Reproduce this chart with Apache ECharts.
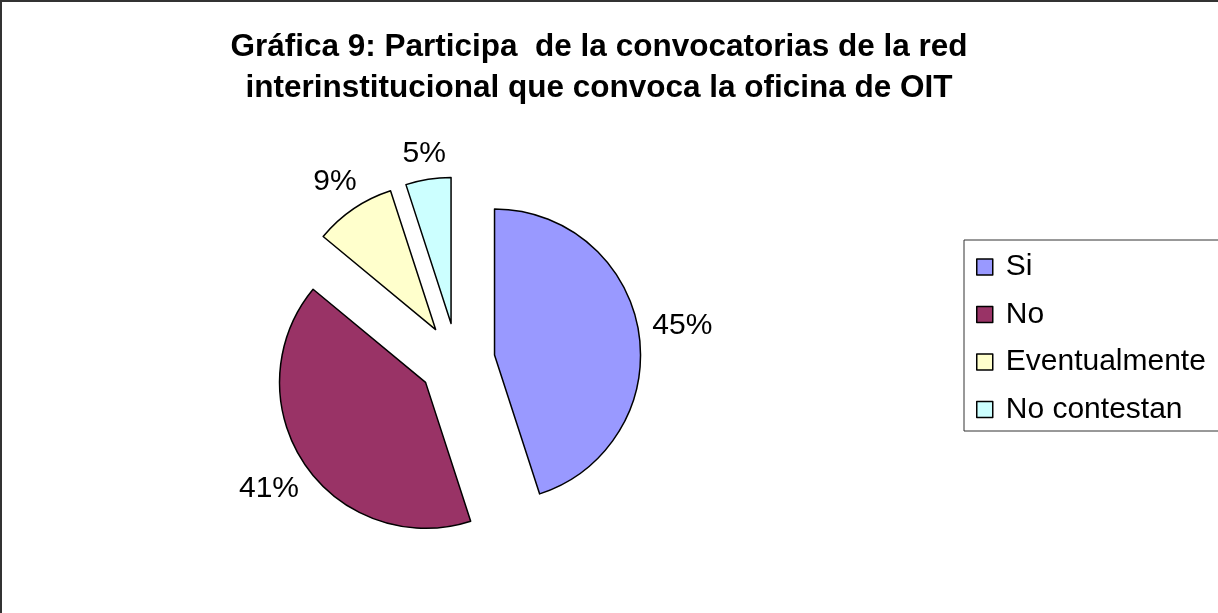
<!DOCTYPE html>
<html>
<head>
<meta charset="utf-8">
<title>Gráfica 9</title>
<script src="https://cdn.jsdelivr.net/npm/echarts@6/dist/echarts.min.js"></script>
<style>
  html, body { margin: 0; padding: 0; background: #fff; }
  #chart { width: 1218px; height: 613px; }
</style>
</head>
<body>
<div id="chart"></div>
<script>
// data
const categories = ['Si', 'No', 'Eventualmente', 'No contestan']
const percents = [45, 41, 9, 5]
const colors = ['#9999FF', '#993366', '#FFFFCC', '#CCFFFF']
const titleText = 'Gráfica 9: Participa  de la convocatorias de la red\ninterinstitucional que convoca la oficina de OIT'

const font = "'Liberation Sans', Arial, sans-serif"
const pieCenter = [457, 361]
const pieRadius = 146
const explode = 38
const labelGap = 13

// mid angle of each slice, clockwise from 12 o'clock (same as the pie)
const total = percents.reduce((a, b) => a + b, 0)
const midAngles = percents.map((v, i) => {
  const before = percents.slice(0, i).reduce((a, b) => a + b, 0)
  return (before + v / 2) / total * 2 * Math.PI
})

// put each label just outside its exploded slice, like Excel does
function placeLabel (params) {
  const a = midAngles[params.dataIndex]
  const dx = Math.sin(a)
  const dy = -Math.cos(a)
  const w = params.labelRect.width
  const h = params.labelRect.height * 0.65
  const half = Math.abs(dx) * w / 2 + Math.abs(dy) * h / 2
  const d = explode + pieRadius + labelGap + half
  return {
    x: pieCenter[0] + dx * d,
    y: pieCenter[1] + dy * d,
    align: 'center',
    verticalAlign: 'middle'
  }
}

const pieData = categories.map((name, i) => ({ name: name, value: percents[i] }))

const chart = echarts.init(document.getElementById('chart'))

chart.setOption({
  animation: false,
  color: colors,
  title: {
    text: titleText,
    left: 599,
    top: 27,
    padding: 0,
    textAlign: 'center',
    textStyle: {
      fontFamily: font,
      fontSize: 31.5,
      fontWeight: 'bold',
      color: '#000',
      lineHeight: 41
    }
  },
  legend: {
    orient: 'vertical',
    left: 964,
    top: 240,
    padding: [12, 40, 6.5, 12],
    borderColor: '#333',
    borderWidth: 1,
    itemWidth: 16,
    itemHeight: 16,
    itemGap: 17.5,
    icon: 'rect',
    selectedMode: false,
    itemStyle: {
      borderColor: '#000',
      borderWidth: 1.5
    },
    textStyle: {
      fontFamily: font,
      fontSize: 30,
      lineHeight: 30,
      color: '#000',
      padding: [0, 0, 0, 8]
    },
    data: categories
  },
  graphic: [{
    type: 'rect',
    silent: true,
    z: -1,
    shape: { x: 1, y: 1, width: 1300, height: 700 },
    style: { fill: 'none', stroke: '#333', lineWidth: 2 }
  }],
  series: [{
    // the exploded slices
    type: 'pie',
    center: pieCenter,
    radius: pieRadius,
    startAngle: 90,
    clockwise: true,
    selectedMode: 'multiple',
    selectedOffset: explode,
    itemStyle: {
      borderColor: '#000',
      borderWidth: 1.5
    },
    select: {
      itemStyle: {
        borderColor: '#000',
        borderWidth: 1.5
      }
    },
    emphasis: {
      disabled: true
    },
    label: {
      show: false
    },
    labelLine: {
      show: false
    },
    data: pieData.map(d => Object.assign({ selected: true }, d))
  }, {
    // same pie, invisible, only carries the percent labels
    type: 'pie',
    center: pieCenter,
    radius: pieRadius,
    startAngle: 90,
    clockwise: true,
    silent: true,
    percentPrecision: 0,
    avoidLabelOverlap: false,
    itemStyle: {
      color: 'rgba(0,0,0,0)',
      borderWidth: 0
    },
    emphasis: {
      disabled: true
    },
    label: {
      position: 'outside',
      formatter: '{d}%',
      fontFamily: font,
      fontSize: 30,
      color: '#000'
    },
    labelLine: {
      show: false
    },
    labelLayout: placeLabel,
    data: pieData
  }]
})
</script>
</body>
</html>
